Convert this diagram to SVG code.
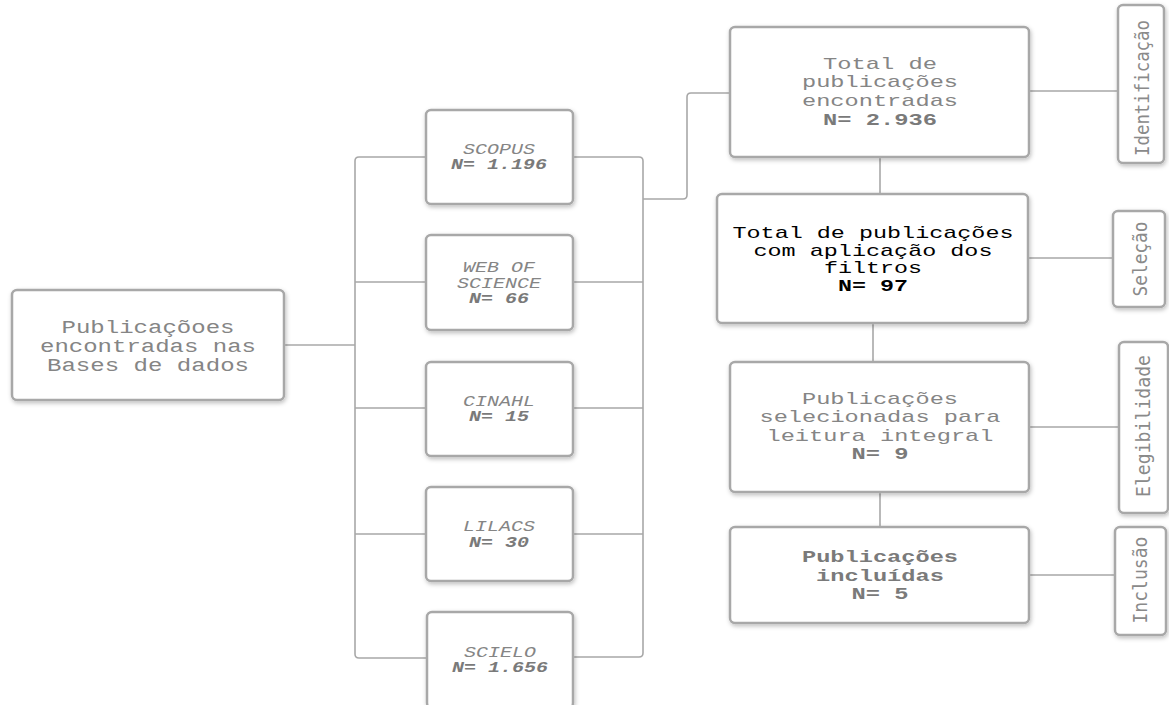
<svg xmlns="http://www.w3.org/2000/svg" width="1169" height="705" viewBox="0 0 1169 705">
<defs>
<filter id="sh" x="-10%" y="-10%" width="130%" height="130%">
<feDropShadow dx="1" dy="2" stdDeviation="2" flood-color="#000" flood-opacity="0.25"/>
</filter>
</defs>
<style>
.box{fill:#fff;stroke:#a8a8a8;stroke-width:2.5;filter:url(#sh)}
.con{fill:none;stroke:#a8a8a8;stroke-width:1.6}
.t{font-family:"Liberation Mono","Courier New",monospace;fill:#858585;text-anchor:middle}
.tl{font-size:18px}
.tr{font-size:17px}
.ts{font-size:14px;font-style:italic}
.b{font-weight:bold;fill:#7a7a7a}
.k{fill:#000}
.lab{font-family:"DejaVu Sans Mono",monospace;font-size:20px;fill:#8a8a8a;text-anchor:middle}
</style>
<rect width="1169" height="705" fill="#fff"/>
<g id="connectors">
<path class="con" d="M284,345 H355"/>
<path class="con" d="M426,157 H359 Q355,157 355,161 V654 Q355,658 359,658 H426"/>
<path class="con" d="M355,282 H426 M355,408 H426 M355,534 H426"/>
<path class="con" d="M573,157 H639 Q643,157 643,161 V653 Q643,657 639,657 H573"/>
<path class="con" d="M573,282 H643 M573,408 H643 M573,534 H643"/>
<path class="con" d="M643,199 H683 Q687,199 687,195 V97 Q687,93 691,93 H730"/>
<path class="con" d="M880,157 V194 M873,323 V362 M880,492 V527"/>
<path class="con" d="M1029,91 H1118 M1028,258 H1113 M1029,427 H1119 M1029,575 H1115"/>
</g>
<g id="bases">
<rect class="box" x="12" y="290" width="272" height="110" rx="5"/>
<text class="t tl" x="148" y="333" textLength="173" lengthAdjust="spacingAndGlyphs">Publicaçõoes</text>
<text class="t tl" x="148" y="352" textLength="216" lengthAdjust="spacingAndGlyphs">encontradas nas</text>
<text class="t tl" x="148" y="371" textLength="202" lengthAdjust="spacingAndGlyphs">Bases de dados</text>
</g>
<g id="scopus">
<rect class="box" x="426" y="110" width="147" height="94" rx="5"/>
<text class="t ts" x="499" y="154" textLength="72" lengthAdjust="spacingAndGlyphs">SCOPUS</text>
<text class="t ts b" x="499" y="169" textLength="96" lengthAdjust="spacingAndGlyphs">N= 1.196</text>
</g>
<g id="wos">
<rect class="box" x="426" y="235" width="147" height="95" rx="5"/>
<text class="t ts" x="499" y="272" textLength="72" lengthAdjust="spacingAndGlyphs">WEB OF</text>
<text class="t ts" x="499" y="288" textLength="84" lengthAdjust="spacingAndGlyphs">SCIENCE</text>
<text class="t ts b" x="499" y="303" textLength="60" lengthAdjust="spacingAndGlyphs">N= 66</text>
</g>
<g id="cinahl">
<rect class="box" x="426" y="362" width="147" height="94" rx="5"/>
<text class="t ts" x="499" y="406" textLength="72" lengthAdjust="spacingAndGlyphs">CINAHL</text>
<text class="t ts b" x="499" y="421" textLength="60" lengthAdjust="spacingAndGlyphs">N= 15</text>
</g>
<g id="lilacs">
<rect class="box" x="426" y="487" width="147" height="94" rx="5"/>
<text class="t ts" x="499" y="531" textLength="72" lengthAdjust="spacingAndGlyphs">LILACS</text>
<text class="t ts b" x="499" y="547" textLength="60" lengthAdjust="spacingAndGlyphs">N= 30</text>
</g>
<g id="scielo">
<rect class="box" x="427" y="612" width="146" height="96" rx="5"/>
<text class="t ts" x="500" y="657" textLength="72" lengthAdjust="spacingAndGlyphs">SCIELO</text>
<text class="t ts b" x="500" y="672" textLength="96" lengthAdjust="spacingAndGlyphs">N= 1.656</text>
</g>
<g id="total">
<rect class="box" x="730" y="27" width="299" height="130" rx="5"/>
<text class="t tr" x="880" y="69" textLength="114" lengthAdjust="spacingAndGlyphs">Total de</text>
<text class="t tr" x="880" y="87" textLength="156" lengthAdjust="spacingAndGlyphs">publicações</text>
<text class="t tr" x="880" y="106" textLength="156" lengthAdjust="spacingAndGlyphs">encontradas</text>
<text class="t tr b" x="880" y="125" textLength="114" lengthAdjust="spacingAndGlyphs">N= 2.936</text>
</g>
<g id="filtros">
<rect class="box" x="717" y="194" width="311" height="129" rx="5"/>
<text class="t tr k" x="873" y="238" textLength="281" lengthAdjust="spacingAndGlyphs">Total de publicações</text>
<text class="t tr k" x="873" y="256" textLength="239" lengthAdjust="spacingAndGlyphs">com aplicação dos</text>
<text class="t tr k" x="873" y="273" textLength="98" lengthAdjust="spacingAndGlyphs">filtros</text>
<text class="t tr k" x="873" y="291" font-weight="bold" textLength="70" lengthAdjust="spacingAndGlyphs">N= 97</text>
</g>
<g id="leitura">
<rect class="box" x="730" y="362" width="299" height="130" rx="5"/>
<text class="t tr" x="880" y="404" textLength="156" lengthAdjust="spacingAndGlyphs">Publicações</text>
<text class="t tr" x="880" y="422" textLength="241" lengthAdjust="spacingAndGlyphs">selecionadas para</text>
<text class="t tr" x="880" y="441" textLength="227" lengthAdjust="spacingAndGlyphs">leitura integral</text>
<text class="t tr b" x="880" y="459" textLength="57" lengthAdjust="spacingAndGlyphs">N= 9</text>
</g>
<g id="incluidas">
<rect class="box" x="730" y="527" width="299" height="96" rx="5"/>
<text class="t tr b" x="880" y="562" textLength="156" lengthAdjust="spacingAndGlyphs">Publicações</text>
<text class="t tr b" x="880" y="581" textLength="128" lengthAdjust="spacingAndGlyphs">incluídas</text>
<text class="t tr b" x="880" y="599" textLength="57" lengthAdjust="spacingAndGlyphs">N= 5</text>
</g>
<g id="lab-identificacao">
<rect class="box" x="1118" y="5" width="46" height="158" rx="5"/>
<text class="lab" transform="translate(1149,88) rotate(-90)" textLength="136" lengthAdjust="spacingAndGlyphs">Identificação</text>
</g>
<g id="lab-selecao">
<rect class="box" x="1113" y="211" width="52" height="96" rx="5"/>
<text class="lab" transform="translate(1147,259) rotate(-90)" textLength="75" lengthAdjust="spacingAndGlyphs">Seleção</text>
</g>
<g id="lab-elegibilidade">
<rect class="box" x="1119" y="342" width="49" height="171" rx="5"/>
<text class="lab" transform="translate(1150,426) rotate(-90)" textLength="142" lengthAdjust="spacingAndGlyphs">Elegibilidade</text>
</g>
<g id="lab-inclusao">
<rect class="box" x="1115" y="527" width="51" height="108" rx="5"/>
<text class="lab" transform="translate(1147,580) rotate(-90)" textLength="87" lengthAdjust="spacingAndGlyphs">Inclusão</text>
</g>
</svg>
